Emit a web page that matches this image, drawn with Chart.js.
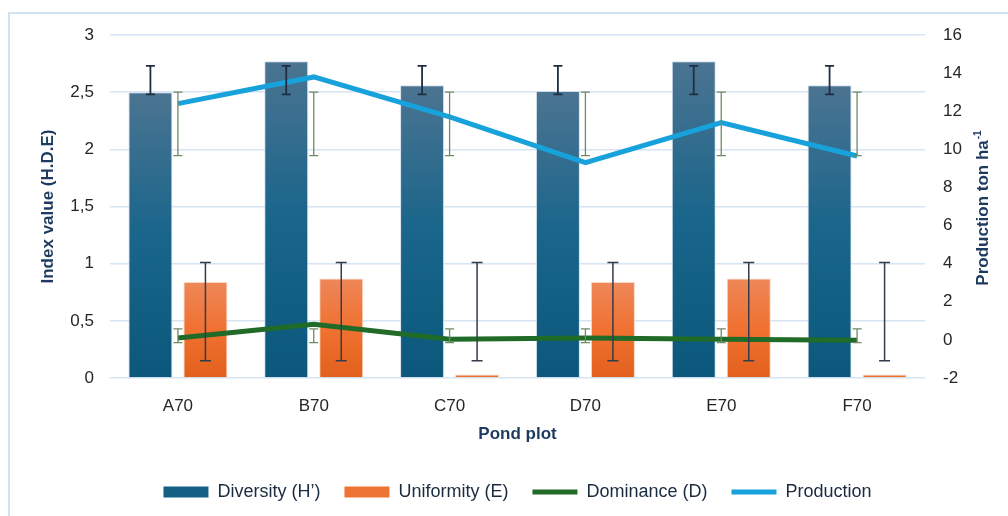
<!DOCTYPE html>
<html>
<head>
<meta charset="utf-8">
<script src="https://cdn.jsdelivr.net/npm/chart.js@4.4.1/dist/chart.umd.min.js"></script>
<style>
  html, body { margin: 0; padding: 0; background: #fff; }
  #wrap { width: 1008px; height: 516px; position: relative; }
</style>
</head>
<body>
<div id="wrap"><canvas id="pondChart" width="1008" height="516"></canvas></div>
<script>
// Data
const categories = ['A70', 'B70', 'C70', 'D70', 'E70', 'F70'];
const diversity = [2.50, 2.77, 2.56, 2.51, 2.77, 2.56];
const uniformity = [0.84, 0.87, 0.03, 0.84, 0.87, 0.03];
const dominance = [0.35, 0.47, 0.34, 0.35, 0.34, 0.33];
const production = [12.4, 13.8, 11.7, 9.3, 11.4, 9.65];

// error bar ranges (low / high)
const diversityErrLow = [2.48, 2.48, 2.48, 2.48, 2.48, 2.48];
const diversityErrHigh = [2.73, 2.73, 2.73, 2.73, 2.73, 2.73];
const uniformityErrLow = [0.15, 0.15, 0.15, 0.15, 0.15, 0.15];
const uniformityErrHigh = [1.01, 1.01, 1.01, 1.01, 1.01, 1.01];
const dominanceErrLow = [0.31, 0.31, 0.31, 0.31, 0.31, 0.31];
const dominanceErrHigh = [0.43, 0.43, 0.43, 0.43, 0.43, 0.43];
const productionErrLow = [9.67, 9.67, 9.67, 9.67, 9.67, 9.67];
const productionErrHigh = [13.0, 13.0, 13.0, 13.0, 13.0, 13.0];

const FONT = "'Liberation Sans', Arial, sans-serif";
const TITLE_COLOR = '#1d3a5f';
const TICK_COLOR = '#262626';

// vertical gradient per bar, lighter at the top
function barGradient(stops, solid) {
    return function(context) {
        const chart = context.chart;
        if (context.type !== 'data' || !chart.chartArea) return solid;
        const y = chart.scales.y;
        const top = y.getPixelForValue(context.raw);
        const bottom = y.getPixelForValue(0);
        if (!isFinite(top) || bottom - top < 2) return solid;
        const g = chart.ctx.createLinearGradient(0, top, 0, bottom);
        g.addColorStop(0, stops[0]);
        g.addColorStop(0.5, stops[1]);
        g.addColorStop(1, stops[2]);
        return g;
    };
}

// Excel-style error bars
const errorBars = {
    id: 'errorBars',
    afterDatasetsDraw(chart) {
        const ctx = chart.ctx;
        const groups = [
            { ds: 0, low: diversityErrLow, high: diversityErrHigh, axis: 'y', color: '#1f2e42', cap: 4.5, width: 1.8 },
            { ds: 1, low: uniformityErrLow, high: uniformityErrHigh, axis: 'y', color: '#333c4a', cap: 5.5, width: 1.5 },
            { ds: 2, low: dominanceErrLow, high: dominanceErrHigh, axis: 'y', color: '#6e8a64', cap: 4.5, width: 1.3 },
            { ds: 3, low: productionErrLow, high: productionErrHigh, axis: 'y1', color: '#6e8a64', cap: 4.5, width: 1.3 }
        ];
        ctx.save();
        groups.forEach(g => {
            const meta = chart.getDatasetMeta(g.ds);
            const scale = chart.scales[g.axis];
            meta.data.forEach((el, i) => {
                const x = el.x;
                const yl = scale.getPixelForValue(g.low[i]);
                const yh = scale.getPixelForValue(g.high[i]);
                ctx.strokeStyle = g.color;
                ctx.lineWidth = g.width;
                ctx.beginPath();
                ctx.moveTo(x, yl); ctx.lineTo(x, yh);
                ctx.moveTo(x - g.cap, yl); ctx.lineTo(x + g.cap, yl);
                ctx.moveTo(x - g.cap, yh); ctx.lineTo(x + g.cap, yh);
                ctx.stroke();
            });
        });
        ctx.restore();
    }
};

// frame + right axis title (reads bottom to top, with superscript)
const decorations = {
    id: 'decorations',
    beforeDraw(chart) {
        const ctx = chart.ctx;
        ctx.save();
        ctx.strokeStyle = '#d3e2f3';
        ctx.lineWidth = 2;
        ctx.strokeRect(9, 13, 1100, 600);
        ctx.restore();
    },
    afterDraw(chart) {
        const ctx = chart.ctx;
        const area = chart.chartArea;
        const main = 'Production ton ha';
        const sup = '-1';
        ctx.save();
        ctx.fillStyle = TITLE_COLOR;
        ctx.font = 'bold 17px ' + FONT;
        const w1 = ctx.measureText(main).width;
        ctx.font = 'bold 10px ' + FONT;
        const w2 = ctx.measureText(sup).width;
        ctx.translate(983, (area.top + area.bottom) / 2 + 2);
        ctx.rotate(-Math.PI / 2);
        ctx.textBaseline = 'middle';
        ctx.textAlign = 'left';
        const start = -(w1 + w2) / 2;
        ctx.font = 'bold 17px ' + FONT;
        ctx.fillText(main, start, 0);
        ctx.font = 'bold 10px ' + FONT;
        ctx.fillText(sup, start + w1 + 1, -5);
        ctx.restore();
    }
};

const legendColors = ['#145f84', '#ee7434', '#1f6b27', '#17a2dc'];

new Chart(document.getElementById('pondChart'), {
    type: 'bar',
    data: {
        labels: categories,
        datasets: [
            {
                label: 'Diversity (H\u2019)',
                data: diversity,
                yAxisID: 'y',
                order: 2,
                backgroundColor: barGradient(['#4b7491', '#19658b', '#0b587c'], '#145f84'),
                borderColor: 'rgba(205,218,232,0.8)',
                borderWidth: 1,
                categoryPercentage: 0.81,
                barPercentage: 0.8
            },
            {
                label: 'Uniformity (E)',
                data: uniformity,
                yAxisID: 'y',
                order: 2,
                backgroundColor: barGradient(['#ee8759', '#f07131', '#e2601c'], '#ee7434'),
                borderColor: 'rgba(248,205,180,0.8)',
                borderWidth: 1,
                categoryPercentage: 0.81,
                barPercentage: 0.8
            },
            {
                type: 'line',
                label: 'Dominance (D)',
                data: dominance,
                yAxisID: 'y',
                order: 1,
                borderColor: '#1f6b27',
                backgroundColor: '#1f6b27',
                borderWidth: 5,
                pointRadius: 0,
                tension: 0
            },
            {
                type: 'line',
                label: 'Production',
                data: production,
                yAxisID: 'y1',
                order: 1,
                borderColor: '#17a2dc',
                backgroundColor: '#17a2dc',
                borderWidth: 5,
                pointRadius: 0,
                tension: 0
            }
        ]
    },
    options: {
        responsive: false,
        animation: false,
        layout: {
            padding: { left: 27, right: 0, top: 35, bottom: 7 }
        },
        plugins: {
            tooltip: { enabled: false },
            legend: {
                display: true,
                position: 'bottom',
                maxHeight: 50,
                labels: {
                    usePointStyle: true,
                    pointStyleWidth: 45,
                    boxHeight: 11,
                    padding: 24,
                    color: '#1a2b40',
                    font: { family: FONT, size: 18 },
                    generateLabels: function(chart) {
                        return chart.data.datasets.map((ds, i) => ({
                            text: ds.label,
                            fillStyle: legendColors[i],
                            strokeStyle: legendColors[i],
                            lineWidth: ds.type === 'line' ? 5 : 0,
                            pointStyle: ds.type === 'line' ? 'line' : 'rect',
                            fontColor: '#1a2b40',
                            hidden: false,
                            datasetIndex: i
                        }));
                    }
                }
            }
        },
        scales: {
            x: {
                grid: { display: false, drawTicks: false },
                border: { display: false },
                ticks: {
                    color: TICK_COLOR,
                    padding: 18,
                    font: { family: FONT, size: 17 }
                },
                title: {
                    display: true,
                    text: 'Pond plot',
                    color: TITLE_COLOR,
                    font: { family: FONT, size: 17, weight: 'bold' },
                    padding: { top: 0, bottom: 14 }
                },
                afterFit: function(scale) { scale.height = 81; }
            },
            y: {
                position: 'left',
                min: 0,
                max: 3,
                grid: {
                    color: '#d6e4f4',
                    lineWidth: 1.6,
                    drawTicks: false
                },
                border: { display: false },
                ticks: {
                    stepSize: 0.5,
                    color: TICK_COLOR,
                    padding: 16,
                    font: { family: FONT, size: 17 },
                    callback: function(value) {
                        return String(value).replace('.', ',');
                    }
                },
                title: {
                    display: true,
                    text: 'Index value (H.D.E)',
                    color: TITLE_COLOR,
                    font: { family: FONT, size: 17, weight: 'bold' },
                    padding: { top: 11, bottom: 0 }
                },
                afterFit: function(scale) { scale.width = 83; }
            },
            y1: {
                position: 'right',
                min: -2,
                max: 16,
                grid: { display: false, drawTicks: false },
                border: { display: false },
                ticks: {
                    stepSize: 2,
                    color: TICK_COLOR,
                    padding: 18,
                    font: { family: FONT, size: 17 }
                },
                afterFit: function(scale) { scale.width = 83; }
            }
        }
    },
    plugins: [errorBars, decorations]
});
</script>
</body>
</html>
